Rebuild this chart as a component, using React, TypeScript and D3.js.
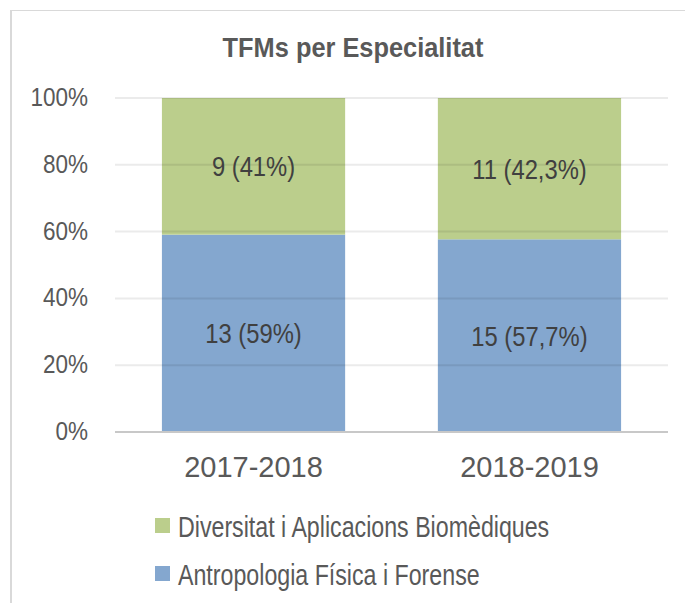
import React from "react";
import * as d3 from "d3";

const categories = ["2017-2018", "2018-2019"];
const seriesNames = ["Antropologia Física i Forense", "Diversitat i Aplicacions Biomèdiques"];
const antropologiaCounts = [13, 15];
const diversitatCounts = [9, 11];
const antropologiaLabels = ["13 (59%)", "15 (57,7%)"];
const diversitatLabels = ["9 (41%)", "11 (42,3%)"];
const yTicks = [0, 0.2, 0.4, 0.6, 0.8, 1];
const title = "TFMs per Especialitat";

const W = 685;
const H = 603;
const COLORS = { antro: "#84a7cf", div: "#bbce8c" };
const SANS = "'Liberation Sans', Arial, sans-serif";

function NText(props: { x: number; y: number; sx: number; size: number; anchor?: string; fill: string; weight?: string; children: React.ReactNode }) {
  return (
    <text
      transform={`translate(${props.x},${props.y}) scale(${props.sx},1)`}
      textAnchor={props.anchor || "start"}
      fontFamily={SANS}
      fontSize={props.size}
      fontWeight={props.weight || "normal"}
      fill={props.fill}
    >
      {props.children}
    </text>
  );
}

export default function App() {
  const x = d3.scaleBand<string>().domain(categories).range([115, 668]).paddingInner(0.336).paddingOuter(0.17);
  const y = d3.scaleLinear().domain([0, 1]).range([432, 98]);
  const fmt = d3.format(".0%");

  const rows = categories.map((c, i) => {
    const total = antropologiaCounts[i] + diversitatCounts[i];
    return { c, a: antropologiaCounts[i] / total, d: diversitatCounts[i] / total, i };
  });
  const stack = d3.stack<any>().keys(["a", "d"])(rows as any);

  return (
    <svg width={W} height={H} style={{ position: "absolute", left: 0, top: 0, background: "#fff" }}>
      <rect x={0} y={0} width={W} height={H} fill="#fff" />
      <line x1={11} x2={11} y1={10} y2={H} stroke="#d9d9d9" strokeWidth={2} />
      <line x1={10} x2={W} y1={10.5} y2={10.5} stroke="#d9d9d9" strokeWidth={1} />
      <NText x={353} y={57} sx={0.94} size={27} weight="bold" anchor="middle" fill="#595959">
        {title}
      </NText>
      {stack.map((layer, li) =>
        layer.map((seg, si) => (
          <rect
            key={`${li}-${si}`}
            x={x(categories[si])}
            width={x.bandwidth()}
            y={y(seg[1])}
            height={y(seg[0]) - y(seg[1])}
            fill={li === 0 ? COLORS.antro : COLORS.div}
          />
        ))
      )}
      {yTicks.map((t) => (
        <g key={t}>
          {t > 0 && (
            <line x1={115} x2={668} y1={y(t)} y2={y(t)} stroke="#000" strokeOpacity={0.08} strokeWidth={2} />
          )}
          <NText x={88} y={y(t) + 8} sx={0.9} size={25} anchor="end" fill="#595959">
            {fmt(t)}
          </NText>
        </g>
      ))}
      <line x1={115} x2={668} y1={y(0)} y2={y(0)} stroke="#c8c8c8" strokeWidth={2} />
      {stack.map((layer, li) =>
        layer.map((seg, si) => (
          <NText
            key={`l${li}-${si}`}
            x={(x(categories[si]) as number) + x.bandwidth() / 2}
            y={(y(seg[0]) + y(seg[1])) / 2 + 10}
            sx={0.85}
            size={28}
            anchor="middle"
            fill="#404040"
          >
            {li === 0 ? antropologiaLabels[si] : diversitatLabels[si]}
          </NText>
        ))
      )}
      {categories.map((c) => (
        <NText key={c} x={(x(c) as number) + x.bandwidth() / 2} y={477} sx={1} size={29} anchor="middle" fill="#595959">
          {c}
        </NText>
      ))}
      {[1, 0].map((si, k) => (
        <g key={si} transform={`translate(155, ${518 + k * 48})`}>
          <rect width={15} height={15} fill={si === 0 ? COLORS.antro : COLORS.div} />
          <NText x={23} y={19} sx={0.8} size={29} fill="#595959">
            {seriesNames[si]}
          </NText>
        </g>
      ))}
    </svg>
  );
}
